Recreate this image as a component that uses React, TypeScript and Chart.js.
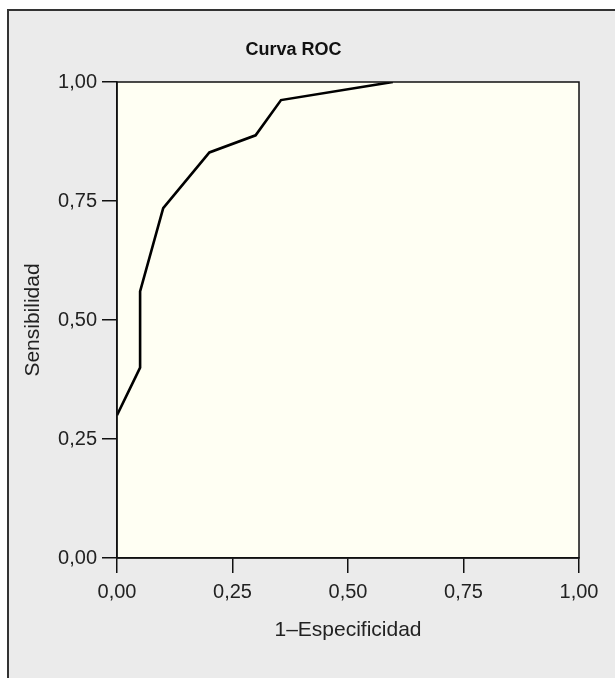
import React, { useEffect, useRef } from "react";
import { Chart, registerables } from "chart.js";

Chart.register(...registerables);

const chartTitle = "Curva ROC";
const xAxisTitle = "1–Especificidad";
const yAxisTitle = "Sensibilidad";
const fpr = [0, 0.05, 0.05, 0.1, 0.2, 0.3, 0.355, 0.597];
const tpr = [0.3, 0.4, 0.56, 0.735, 0.852, 0.888, 0.962, 1.0];
const tickValues = [0, 0.25, 0.5, 0.75, 1.0];

const fmt = (v: number) => v.toFixed(2).replace(".", ",");

const FONT = "'Liberation Sans', Arial, Helvetica, sans-serif";

const framePlugin = {
  id: "frame",
  beforeDraw(chart: any) {
    const { ctx, chartArea } = chart;
    ctx.save();
    ctx.fillStyle = "#ebebeb";
    ctx.fillRect(8, 10, chart.width, chart.height);
    ctx.strokeStyle = "#333333";
    ctx.lineWidth = 2;
    ctx.beginPath();
    ctx.moveTo(8, chart.height + 5);
    ctx.lineTo(8, 10);
    ctx.lineTo(chart.width + 5, 10);
    ctx.stroke();
    ctx.fillStyle = "#fffff3";
    ctx.fillRect(chartArea.left, chartArea.top, chartArea.right - chartArea.left, chartArea.bottom - chartArea.top);
    ctx.restore();
  },
  afterDraw(chart: any) {
    const { ctx, chartArea } = chart;
    ctx.save();
    ctx.strokeStyle = "#111111";
    ctx.lineWidth = 1.5;
    ctx.strokeRect(chartArea.left, chartArea.top, chartArea.right - chartArea.left, chartArea.bottom - chartArea.top);
    ctx.restore();
  },
};

export default function App() {
  const ref = useRef<HTMLCanvasElement>(null);
  useEffect(() => {
    if (!ref.current) return;
    const points = fpr.map((x, i) => ({ x, y: tpr[i] }));
    const chart = new Chart(ref.current, {
      type: "scatter",
      data: {
        datasets: [
          {
            data: points,
            showLine: true,
            borderColor: "#000000",
            borderWidth: 2.6,
            pointRadius: 0,
            tension: 0,
            fill: false,
          },
        ],
      },
      options: {
        animation: false,
        responsive: false,
        maintainAspectRatio: false,
        layout: { padding: { left: 8, right: 36, top: 0, bottom: 0 } },
        plugins: {
          legend: { display: false },
          tooltip: { enabled: false },
          title: {
            display: true,
            text: chartTitle,
            color: "#111111",
            font: { family: FONT, size: 18, weight: "bold", lineHeight: 1.2 },
            padding: { top: 39, bottom: 21.4 },
          },
        },
        scales: {
          x: {
            type: "linear",
            min: 0,
            max: 1,
            afterBuildTicks: (s: any) => {
              s.ticks = tickValues.map((v) => ({ value: v }));
            },
            afterFit: (s: any) => {
              s.height = 120;
            },
            border: { display: true, color: "#111111", width: 1.5 },
            grid: { display: true, drawOnChartArea: false, drawTicks: true, tickLength: 15, color: "#111111", lineWidth: 1.5 },
            ticks: {
              color: "#222222",
              padding: 7,
              maxRotation: 0,
              font: { family: FONT, size: 20 },
              callback: (v: any) => fmt(Number(v)),
            },
            title: {
              display: true,
              text: xAxisTitle,
              color: "#222222",
              font: { family: FONT, size: 21, lineHeight: 1.2 },
              padding: { top: 0, bottom: 35 },
            },
          },
          y: {
            type: "linear",
            min: 0,
            max: 1,
            afterBuildTicks: (s: any) => {
              s.ticks = tickValues.map((v) => ({ value: v }));
            },
            afterFit: (s: any) => {
              s.width = 109;
            },
            border: { display: true, color: "#111111", width: 1.5 },
            grid: { display: true, drawOnChartArea: false, drawTicks: true, tickLength: 15, color: "#111111", lineWidth: 1.5 },
            ticks: {
              color: "#222222",
              padding: 5,
              font: { family: FONT, size: 20 },
              callback: (v: any) => fmt(Number(v)),
            },
            title: {
              display: true,
              text: yAxisTitle,
              color: "#222222",
              font: { family: FONT, size: 21, lineHeight: 1.2 },
              padding: { top: 12.4, bottom: 0 },
            },
          },
        },
      },
      plugins: [framePlugin],
    });
    return () => chart.destroy();
  }, []);
  return (
    <div style={{ position: "fixed", left: 0, top: 0, width: 615, height: 678 }}>
      <canvas ref={ref} width={615} height={678} style={{ width: 615, height: 678, display: "block" }} />
    </div>
  );
}
